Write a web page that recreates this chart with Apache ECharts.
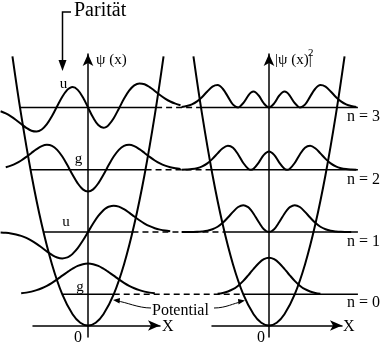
<!DOCTYPE html>
<html><head><meta charset="utf-8">
<script src="https://cdn.jsdelivr.net/npm/echarts@6/dist/echarts.min.js"></script>
<style>html,body{margin:0;padding:0;background:#fff}#c{width:387px;height:350px}</style>
</head><body><div id="c"></div>
<script>
// ---------- data ----------
// dimensionless coordinate xi, energies in units of hbar*omega
const XI = [-3.4,-3.2,-3.0,-2.8,-2.6,-2.4,-2.2,-2.0,-1.8,-1.6,-1.4,-1.2,-1.0,-0.8,-0.7,-0.6,-0.4,-0.2,0,0.2,0.4,0.6,0.7,0.8,1.0,1.2,1.4,1.6,1.8,2.0,2.2,2.4,2.6,2.8,3.0,3.2,3.4,3.6];
const LEVELS = [0, 1, 2, 3];
const LEVEL_E = [0.5, 1.5, 2.5, 3.5];
const TURN_XI = [1.0, 1.73, 2.24, 2.65];
const LINE_END_XI = 3.46;
const PARITY = ['g', 'u', 'g', 'u'];

const PSI0 = [null,null,null,null,0.026,0.042,0.067,0.102,0.149,0.209,0.282,0.366,0.456,0.545,0.588,0.627,0.693,0.736,0.751,0.736,0.693,0.627,0.588,0.545,0.456,0.366,0.282,0.209,0.149,0.102,0.067,0.042,0.026,null,null,null,null,null];
const PSI1 = [-0.011,-0.020,-0.035,-0.059,-0.094,-0.143,-0.208,-0.287,-0.378,-0.473,-0.558,-0.621,-0.644,-0.617,-0.582,-0.532,-0.392,-0.208,0,0.208,0.392,0.532,0.582,0.617,0.644,0.621,0.558,0.473,0.378,0.287,0.208,0.143,0.094,0.059,0.035,0.020,null,null];
const PSI2 = [null,0.062,0.100,0.154,0.226,0.313,0.410,0.503,0.576,0.608,0.582,0.486,0.322,0.108,-0.008,-0.124,-0.333,-0.479,-0.531,-0.479,-0.333,-0.124,-0.008,0.108,0.322,0.486,0.582,0.608,0.576,0.503,0.410,0.313,0.226,0.154,0.100,0.062,0.036,0.020];
const PSI3 = [-0.092,-0.145,-0.217,-0.305,-0.403,-0.497,-0.567,-0.587,-0.538,-0.409,-0.210,0.030,0.263,0.433,0.480,0.496,0.429,0.248,0,-0.248,-0.429,-0.496,-0.480,-0.433,-0.263,-0.030,0.210,0.409,0.538,0.587,0.567,0.497,0.403,0.305,0.217,0.145,0.092,0.055];

const PROB0 = [null,null,null,null,null,null,null,0.010,0.022,0.044,0.079,0.134,0.208,0.298,0.346,0.394,0.481,0.542,0.564,0.542,0.481,0.394,0.346,0.298,0.208,0.134,0.079,0.044,0.022,0.010,null,null,null,null,null,null,null,null];
const PROB1 = [0.000,0.000,0.001,0.003,0.009,0.020,0.043,0.082,0.143,0.224,0.311,0.386,0.415,0.381,0.339,0.283,0.154,0.043,0,0.043,0.154,0.283,0.339,0.381,0.415,0.386,0.311,0.224,0.143,0.082,0.043,0.020,0.009,0.003,0.001,0.000,null,null];
const PROB2 = [0.001,0.004,0.010,0.024,0.051,0.098,0.168,0.253,0.332,0.370,0.339,0.236,0.104,0.012,0.000,0.015,0.111,0.229,0.282,0.229,0.111,0.015,0.000,0.012,0.104,0.236,0.339,0.370,0.332,0.253,0.168,0.098,0.051,0.024,0.010,0.004,0.001,null];
const PROB3 = [0.008,0.021,0.047,0.093,0.162,0.247,0.321,0.345,0.289,0.167,0.044,0.001,0.069,0.187,0.230,0.246,0.184,0.062,0,0.062,0.184,0.246,0.230,0.187,0.069,0.001,0.044,0.167,0.289,0.345,0.321,0.247,0.162,0.093,0.047,0.021,0.008,null];

const POT_XI = [-2.94,-2.6,-2.2,-1.8,-1.4,-1.0,-0.6,-0.3,0,0.3,0.6,1.0,1.4,1.8,2.2,2.6,2.94];
const POT_E  = [4.32,3.38,2.42,1.62,0.98,0.50,0.18,0.045,0,0.045,0.18,0.50,0.98,1.62,2.42,3.38,4.32];

// ---------- layout constants ----------
const PSI_SCALE = 0.658;   // energy units per unit of psi
const PROB_SCALE = 1.04;   // energy units per unit of |psi|^2
const PANEL_SHIFT = 7.043; // distance between the two panel origins (xi units)
const FONT = 'Liberation Serif';

const PSI = [PSI0, PSI1, PSI2, PSI3];
const PROB = [PROB0, PROB1, PROB2, PROB3];

function curve(arr, n, scale) {
  const out = [];
  XI.forEach((x, i) => { if (arr[i] !== null) out.push([x, LEVEL_E[n] + scale * arr[i]]); });
  return out;
}

const thick = { color: '#000', width: 2 };
const thin = { color: '#000', width: 1.5 };
const series = [];

[0, 1].forEach(g => {
  series.push({ type: 'line', xAxisIndex: g, yAxisIndex: g, data: POT_XI.map((x, i) => [x, POT_E[i]]),
    smooth: 0.4, symbol: 'none', lineStyle: thick, z: 3, silent: true });
});

LEVELS.forEach(n => {
  const E = LEVEL_E[n], t = TURN_XI[n];
  series.push({ type: 'line', xAxisIndex: 0, yAxisIndex: 0, data: [[-t, E], [t, E]], symbol: 'none', lineStyle: thin, z: 2 });
  series.push({ type: 'line', xAxisIndex: 0, yAxisIndex: 0, data: [[t, E], [PANEL_SHIFT - t, E]], symbol: 'none',
    lineStyle: { color: '#000', width: 1.5, type: [6, 4] }, z: 2 });
  series.push({ type: 'line', xAxisIndex: 1, yAxisIndex: 1, data: [[-t, E], [LINE_END_XI, E]], symbol: 'none', lineStyle: thin, z: 2 });
  series.push({ type: 'line', xAxisIndex: 0, yAxisIndex: 0, data: curve(PSI[n], n, PSI_SCALE), smooth: 0.35, symbol: 'none', lineStyle: thick, z: 4 });
  series.push({ type: 'line', xAxisIndex: 1, yAxisIndex: 1, data: curve(PROB[n], n, PROB_SCALE), smooth: 0.35, symbol: 'none', lineStyle: thick, z: 4 });
});

const axisLine = { show: true, onZero: true, symbol: ['none', 'arrow'], symbolSize: [8, 12], lineStyle: { color: '#000', width: 1.5 } };
const hidden = { axisTick: { show: false }, axisLabel: { show: false }, splitLine: { show: false } };

function txt(x, y, s, size, align) {
  return { type: 'text', x: x, y: y, style: { text: s, fontSize: size, fontFamily: FONT, fill: '#000', align: align || 'left', verticalAlign: 'middle' } };
}

const graphic = [
  txt(74, 11, 'Parität', 20),
  { type: 'polyline', shape: { points: [[71, 12], [62.5, 12], [62.5, 62]] }, style: { stroke: '#000', lineWidth: 1.5, fill: null } },
  { type: 'polygon', shape: { points: [[58.5, 60], [66.5, 60], [62.5, 71]] }, style: { fill: '#000' } },
  txt(96, 60, 'ψ (x)', 15),
  txt(275, 60, '|ψ (x)|', 15),
  txt(308, 53, '2', 11),
  txt(162, 327, 'X', 16),
  txt(343, 327, 'X', 16),
  txt(78, 338, '0', 16, 'center'),
  txt(261, 338, '0', 16, 'center'),
  txt(63.5, 84, PARITY[3], 15, 'center'),
  txt(78.5, 159, PARITY[2], 15, 'center'),
  txt(66, 222, PARITY[1], 15, 'center'),
  txt(80, 287, PARITY[0], 15, 'center'),
  txt(347, 117, 'n = ' + LEVELS[3], 16),
  txt(347, 180, 'n = ' + LEVELS[2], 16),
  txt(347, 242, 'n = ' + LEVELS[1], 16),
  txt(347, 303, 'n = ' + LEVELS[0], 16),
  txt(152, 311, 'Potential', 16),
  { type: 'bezierCurve', shape: { x1: 151, y1: 308, x2: 117, y2: 301, cpx1: 138, cpy1: 308, cpx2: 126, cpy2: 302 }, style: { stroke: '#000', lineWidth: 1, fill: null } },
  { type: 'polygon', shape: { points: [[113, 300], [120, 298], [119.5, 303.5]] }, style: { fill: '#000' } },
  { type: 'bezierCurve', shape: { x1: 214, y1: 308, x2: 241, y2: 302, cpx1: 226, cpy1: 308, cpx2: 234, cpy2: 303 }, style: { stroke: '#000', lineWidth: 1, fill: null } },
  { type: 'polygon', shape: { points: [[245, 300.5], [238, 299], [238.5, 304.5]] }, style: { fill: '#000' } }
];

// px = 88 + 25.7*xi (left panel), px = 269 + 25.7*xi (right panel), py = 325.5 - 62.3*E
const option = {
  animation: false,
  backgroundColor: '#fff',
  grid: [
    { left: 0, top: 0, width: 387, height: 350 },
    { left: 0, top: 0, width: 387, height: 350 },
    { left: 33, top: 54, width: 127, height: 283 },
    { left: 212, top: 54, width: 130, height: 283 }
  ],
  xAxis: [
    { type: 'value', gridIndex: 0, min: -3.4241, max: 11.6342, show: false },
    { type: 'value', gridIndex: 1, min: -10.4669, max: 4.5914, show: false },
    Object.assign({ type: 'value', gridIndex: 2, min: -2.1401, max: 2.8016, axisLine: axisLine }, hidden),
    Object.assign({ type: 'value', gridIndex: 3, min: -2.2179, max: 2.8405, axisLine: axisLine }, hidden)
  ],
  yAxis: [
    { type: 'value', gridIndex: 0, min: -0.3933, max: 5.2247, show: false },
    { type: 'value', gridIndex: 1, min: -0.3933, max: 5.2247, show: false },
    Object.assign({ type: 'value', gridIndex: 2, min: -0.1846, max: 4.358, axisLine: axisLine }, hidden),
    Object.assign({ type: 'value', gridIndex: 3, min: -0.1846, max: 4.358, axisLine: axisLine }, hidden)
  ],
  series: series,
  graphic: graphic
};

const chart = echarts.init(document.getElementById('c'), null, { renderer: 'canvas' });
chart.setOption(option);
</script>
</body></html>
